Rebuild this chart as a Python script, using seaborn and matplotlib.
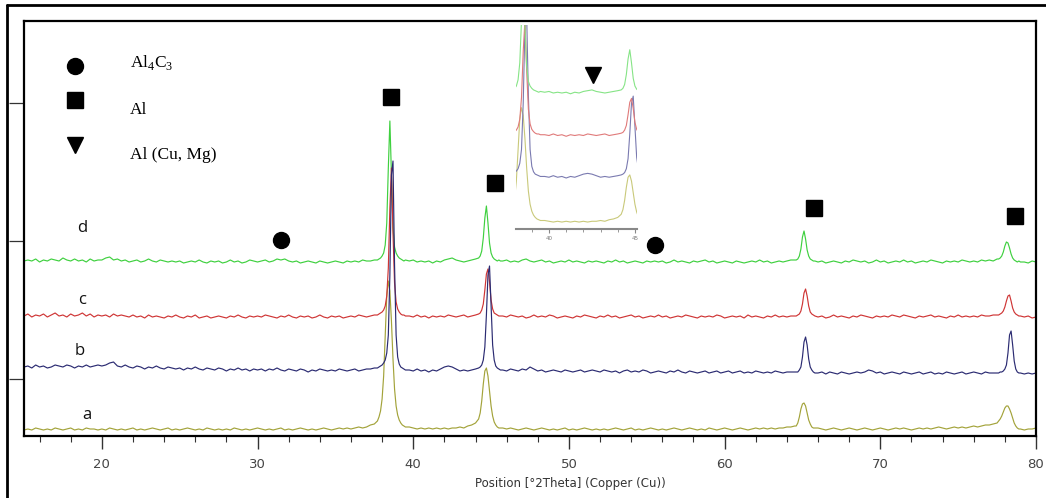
import numpy as np
import pandas as pd
import matplotlib
matplotlib.use("Agg")
import matplotlib.pyplot as plt
import seaborn as sns
from matplotlib.lines import Line2D
from matplotlib.ticker import MultipleLocator

# ---------------- data ----------------
# sample positions (degrees 2-theta): 0.25 deg on the baseline, 0.1 deg around the peaks
SEGMENTS = [(15.0, 37.5, 91), (37.7, 39.5, 19), (39.75, 44.0, 18), (44.2, 45.6, 15),
            (45.75, 64.5, 76), (64.6, 65.8, 13), (66.0, 77.5, 47), (77.6, 79.0, 15),
            (79.25, 80.0, 4)]

# intensities (arbitrary units above each pattern's own baseline)
sample_a = ([1,2,1,3,2,1,2,1,3,2,1,2,3,1,2,1,3,2,2,1,
             2,1,3,2,1,2,1,2,3,1,2,1,2,3,2,1,2,3,1,2,
             1,2,3,2,1,2,1,3,2,1,2,1,2,1,3,2,1,2,1,2,
             3,2,1,2,1,2,3,1,2,1,2,3,2,1,2,1,2,3,2,1,
             2,3,2,3,2,3,4,3,4,6,7]
            + [10,14,20,32,55,95,135,150,140,110,72,42,25,16,11,8,6,5,4]
            + [4,3,2,3,2,3,2,3,2,3,2,3,3,4,3,5,6,8]
            + [12,18,30,47,60,63,55,40,25,15,9,6,4,3,3]
            + [3,2,3,2,1,2,3,2,1,2,3,2,1,2,1,2,3,1,2,1,
               2,3,2,1,2,1,2,1,2,3,2,1,2,3,1,2,1,2,3,2,
               1,2,1,2,3,2,1,2,3,2,1,2,1,3,2,1,2,3,2,1,
               2,3,2,1,2,3,2,3,2,3,2,3,3,4,4,5]
            + [5,8,14,22,27,28,25,18,11,7,4,3,3]
            + [3,2,1,2,3,2,1,2,3,2,1,2,3,2,1,2,3,2,1,2,
               3,2,3,2,1,2,3,2,3,2,3,4,3,2,3,4,3,4,3,4,
               5,4,5,6,6,7,8]
            + [10,12,15,19,23,25,25,22,18,13,8,5,3,2,2]
            + [1,2,2,3])
sample_b = ([8,9,7,10,8,9,7,8,10,9,8,10,9,7,9,8,10,8,9,10,
             9,10,12,13,9,8,10,8,7,9,8,6,8,7,9,7,6,8,7,6,
             7,5,7,6,8,6,5,7,6,5,7,6,4,6,5,7,5,6,4,6,
             5,6,4,6,5,7,5,4,6,5,4,6,5,3,5,4,6,5,4,5,
             4,6,5,4,5,6,4,5,6,6,7]
            + [7,8,9,10,12,15,22,40,100,200,214,110,40,18,11,8,7,6,5]
            + [5,4,6,4,5,3,5,4,6,8,9,8,6,4,5,4,5,6]
            + [7,8,10,15,28,60,100,109,70,30,15,9,7,6,5]
            + [5,4,6,5,4,6,5,8,6,4,5,3,4,5,4,3,5,4,3,4,
               5,3,4,5,4,3,5,4,3,4,2,4,5,3,4,3,5,4,2,3,
               4,3,2,4,3,5,3,2,4,3,2,3,4,2,3,4,2,3,4,2,
               3,4,2,3,2,4,3,2,3,2,4,3,2,3,3,3]
            + [3,3,5,8,18,33,38,30,16,8,5,3,2]
            + [2,3,1,3,2,1,3,2,1,2,3,2,3,5,4,2,3,1,2,3,
               2,1,3,2,1,2,3,1,2,3,1,2,1,3,2,1,2,3,1,2,
               3,2,1,3,2,2,2]
            + [2,3,3,4,6,10,22,40,44,30,14,6,3,2,2]
            + [1,2,1,2])
sample_c = ([2,4,1,3,2,4,1,3,5,2,3,1,4,2,3,5,2,4,1,3,
             2,3,1,4,2,3,2,1,3,1,2,0,3,1,2,1,0,2,1,3,
             1,0,2,1,3,0,1,2,0,1,2,1,0,2,1,3,1,0,2,1,
             2,1,3,2,1,0,2,1,3,1,0,2,1,2,0,1,3,1,0,2,
             1,2,0,1,2,1,3,2,1,2,3]
            + [3,4,5,6,8,12,22,50,110,150,85,35,16,9,6,4,3,3,2]
            + [2,1,3,1,2,0,2,1,2,1,3,2,1,2,3,1,2,3]
            + [4,5,8,14,28,44,49,36,18,9,5,4,3,2,2]
            + [2,1,3,2,1,2,0,1,3,1,2,1,3,2,0,1,2,1,0,2,
               1,3,2,1,0,2,1,3,1,2,0,1,2,3,1,2,0,1,2,1,
               3,1,2,0,1,2,1,3,2,1,0,2,1,2,1,3,2,0,1,2,
               1,2,0,3,1,2,1,0,2,1,3,1,2,1,2,2]
            + [2,3,4,7,14,25,29,22,12,6,4,3,2]
            + [1,2,0,1,3,1,2,1,0,2,1,3,2,1,0,2,1,2,1,3,
               2,1,3,2,1,0,2,1,2,3,1,2,1,0,2,1,3,1,2,1,
               2,1,3,2,2,3,3]
            + [3,4,5,7,11,17,22,23,17,10,6,4,3,2,2]
            + [1,2,0,1])
sample_d = ([2,3,2,4,1,3,2,4,3,2,5,3,2,4,2,3,1,4,2,3,
             3,5,6,3,4,2,3,1,2,3,1,2,4,2,1,3,2,1,2,1,
             2,0,1,2,1,3,1,0,2,1,2,0,1,3,1,2,0,1,3,2,
             1,2,3,1,2,4,3,4,2,1,2,0,1,2,1,0,2,1,0,1,
             2,1,0,2,1,2,1,3,2,2,3]
            + [3,4,5,7,10,18,40,95,142,90,35,16,10,7,5,4,3,2,3]
            + [2,3,1,2,1,2,0,2,1,3,4,5,3,2,1,2,3,4]
            + [5,7,12,25,45,57,40,20,10,6,4,3,2,3,2]
            + [2,3,1,2,1,3,4,2,1,2,3,1,2,0,1,2,1,3,1,2,
               1,0,2,1,2,1,0,2,1,3,1,2,0,1,2,1,0,2,1,2,
               1,2,0,1,3,1,2,1,0,2,1,2,3,1,2,0,1,2,1,0,
               2,1,0,1,2,1,3,1,2,0,1,2,1,2,3,3]
            + [3,4,7,14,26,32,24,13,7,4,3,2,2]
            + [1,2,0,1,2,1,0,2,1,3,2,1,2,0,1,3,1,2,0,1,
               2,1,3,1,2,0,1,2,1,3,2,1,0,2,1,2,1,3,2,1,
               2,1,3,2,3,2,4]
            + [4,5,7,11,17,21,20,15,9,5,3,2,1,2,1]
            + [1,0,2,1])

SAMPLE_LABELS = ["a", "b", "c", "d"]
SAMPLE_VALUES = [sample_a, sample_b, sample_c, sample_d]
STACK_OFFSETS = [5, 61, 118, 173]
SAMPLE_COLORS = ["#a3a33a", "#2b2b72", "#cf3535", "#3fd03f"]
INSET_COLORS = ["#c9c97a", "#7a7ab0", "#e07a7a", "#86e486"]
LABEL_POS = [(19.05, 21), (18.6, 85), (18.72, 136), (18.72, 208)]

# phase markers on the pattern: (2theta, height, marker)
PHASE_X = [31.5, 38.57, 45.25, 55.53, 65.74, 78.65]
PHASE_Y = [196, 339, 253, 191, 228, 220]
PHASE_M = ["o", "s", "s", "o", "s", "s"]

LEGEND_NAMES = [r"Al$_{\mathrm{4}}$C$_{\mathrm{3}}$", "Al", "Al (Cu, Mg)"]
LEGEND_MARKERS = ["o", "s", "v"]
LEGEND_MY = [370, 336, 291]
LEGEND_TY = [373, 326, 281]

XTICKS = [20, 30, 40, 50, 60, 70, 80]
YTICKS = [57, 195, 333]
INSET_XTICKS = [40, 45]
INSET_TRIANGLE = (42.56, 197)

# ---------------- figure ----------------
sns.set_theme(style="white")
plt.rcParams["font.family"] = ["DejaVu Sans"]
plt.rcParams["mathtext.fontset"] = "custom"
plt.rcParams["mathtext.rm"] = "Liberation Serif"

x_vals = np.concatenate([np.linspace(a, b, n) for a, b, n in SEGMENTS])

W, H = 1046, 498
fig = plt.figure(figsize=(W / 100, H / 100), dpi=100)
fig.patch.set_facecolor("white")
ax = fig.add_axes([24 / W, (H - 436) / H, (1036 - 24) / W, (436 - 21) / H])

frames = []
for lab, vals, off in zip(SAMPLE_LABELS, SAMPLE_VALUES, STACK_OFFSETS):
    frames.append(pd.DataFrame({"x": x_vals, "y": np.array(vals, float) + off, "sample": lab}))
df = pd.concat(frames, ignore_index=True)

draw_order = ["a", "d", "c", "b"]
for lab in draw_order:
    i = SAMPLE_LABELS.index(lab)
    sns.lineplot(data=df[df["sample"] == lab], x="x", y="y", ax=ax, color=SAMPLE_COLORS[i],
                 lw=0.85, estimator=None, sort=False, legend=False)

for (tx, ty), lab in zip(LABEL_POS, SAMPLE_LABELS):
    ax.text(tx, ty, lab, fontsize=12, family="Open Sans", ha="center", va="center", color="#111111")

for px, py, m in zip(PHASE_X, PHASE_Y, PHASE_M):
    ax.plot([px], [py], marker=m, color="black", ms=11.5 if m == "o" else 12, ls="none")

for nm, mk, my, ty in zip(LEGEND_NAMES, LEGEND_MARKERS, LEGEND_MY, LEGEND_TY):
    ax.plot([18.25], [my], marker=mk, color="black", ms=11.5 if mk != "v" else 12, ls="none")
    ax.text(21.8, ty, nm, fontsize=12.5, family="Liberation Serif", ha="left", va="center", color="black")

ax.set_xlim(15, 80)
ax.set_ylim(0, 415)
ax.set_xticks(XTICKS)
ax.xaxis.set_minor_locator(MultipleLocator(2))
ax.set_yticks(YTICKS)
ax.set_yticklabels([])
ax.set_xlabel("")
ax.set_ylabel("")
ax.tick_params(axis="x", which="major", direction="out", length=9, width=1.0, color="#333333",
               pad=7, labelsize=9.5, labelcolor="#444444", bottom=True)
ax.tick_params(axis="x", which="minor", direction="out", length=4, width=0.8, color="#333333", bottom=True)
ax.tick_params(axis="y", which="major", direction="out", length=11, width=0.9, color="#333333", left=True)
for s in ax.spines.values():
    s.set_color("black")
    s.set_linewidth(1.6)

fig.text(570 / W, 1 - 483 / H, "Position [\u00b02Theta] (Copper (Cu))", ha="center", va="center",
         fontsize=8.5, color="#333333")

# outer frame (top and left)
fig.add_artist(Line2D([7 / W, 7 / W], [0, 1 - 5 / H], transform=fig.transFigure, color="black", lw=2))
fig.add_artist(Line2D([7 / W, 1], [1 - 5 / H, 1 - 5 / H], transform=fig.transFigure, color="black", lw=2))

# ---------------- inset ----------------
iax = fig.add_axes([516 / W, (H - 229) / H, 121 / W, 204 / H])
iax.set_facecolor("none")
for lab in ["a", "b", "c", "d"]:
    i = SAMPLE_LABELS.index(lab)
    sns.lineplot(data=df[df["sample"] == lab], x="x", y="y", ax=iax, color=INSET_COLORS[i],
                 lw=0.8, estimator=None, sort=False, legend=False)
iax.plot([INSET_TRIANGLE[0]], [INSET_TRIANGLE[1]], marker="v", color="black", ms=11, ls="none")
iax.set_xlim(38.08, 45.12)
iax.set_ylim(-2, 262)
iax.set_xticks(INSET_XTICKS)
iax.xaxis.set_minor_locator(MultipleLocator(1))
iax.set_yticks([])
iax.set_xlabel("")
iax.set_ylabel("")
for side in ["top", "left", "right"]:
    iax.spines[side].set_visible(False)
iax.spines["bottom"].set_color("#888888")
iax.spines["bottom"].set_linewidth(1.5)
iax.tick_params(axis="x", which="major", direction="out", length=3, width=0.8, color="#888888",
                labelsize=4, labelcolor="#777777", pad=2, bottom=True)
iax.tick_params(axis="x", which="minor", direction="out", length=2, width=0.6, color="#888888", bottom=True)

fig.savefig("out.png", dpi=100, facecolor="white")
